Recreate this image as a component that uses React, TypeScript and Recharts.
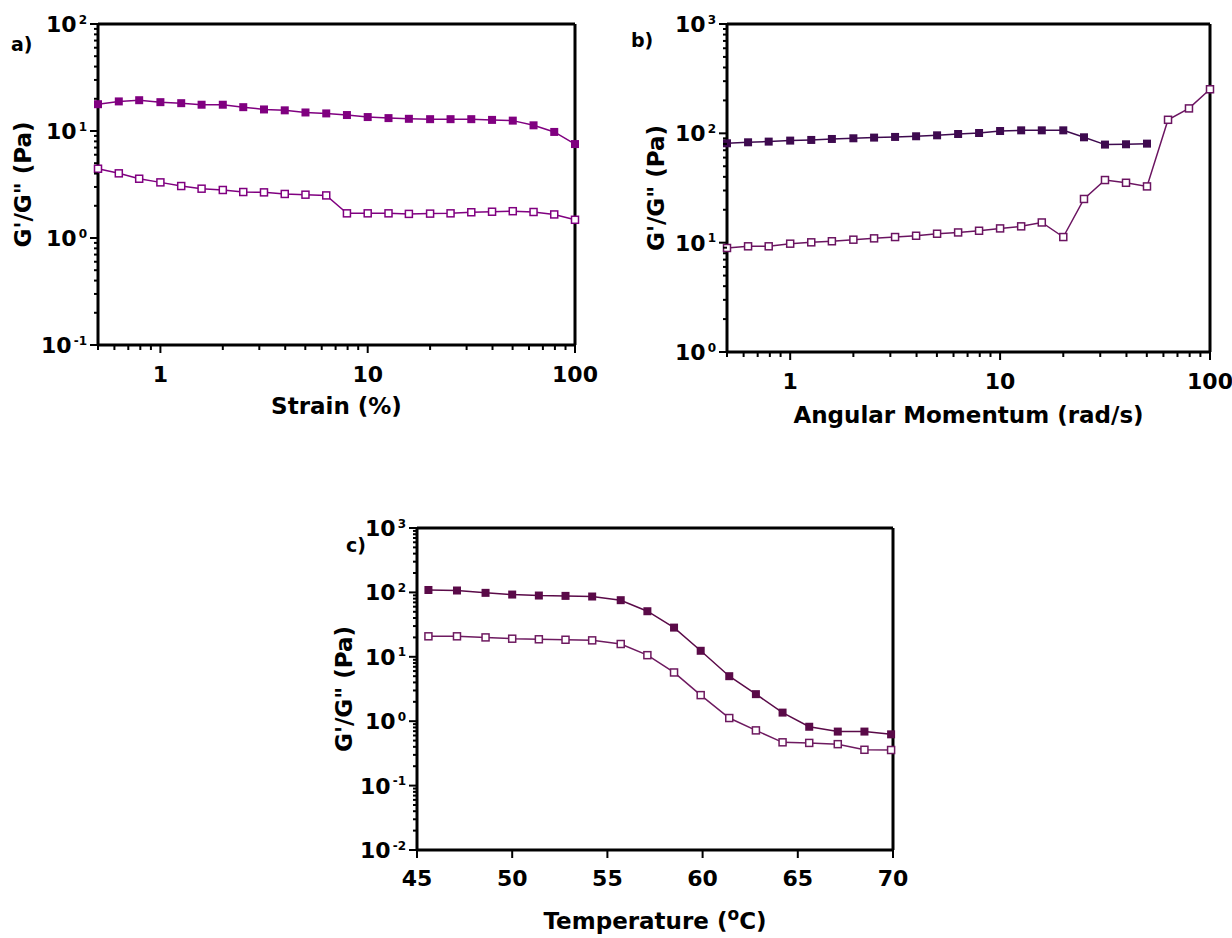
import React from "react";
import { LineChart, Line, XAxis, YAxis, ReferenceLine } from "recharts";

// a) strain sweep
const STRAIN = [0.5, 0.63, 0.79, 1, 1.26, 1.58, 2, 2.51, 3.16, 3.98, 5.01, 6.31, 7.94, 10, 12.6, 15.8, 20, 25.1, 31.6, 39.8, 50.1, 63.1, 79.4, 100];
const STRAIN_G1 = [17.8, 18.9, 19.4, 18.6, 18.2, 17.6, 17.6, 16.7, 15.9, 15.6, 14.9, 14.6, 14.1, 13.5, 13.2, 13.0, 12.9, 12.9, 12.9, 12.7, 12.5, 11.3, 9.8, 7.55];
const STRAIN_G2 = [4.44, 4.02, 3.58, 3.31, 3.06, 2.89, 2.81, 2.69, 2.67, 2.58, 2.54, 2.5, 1.7, 1.7, 1.7, 1.68, 1.69, 1.7, 1.74, 1.76, 1.78, 1.75, 1.66, 1.48];

// b) frequency sweep
const FREQ = [0.5, 0.63, 0.79, 1, 1.26, 1.58, 2, 2.51, 3.16, 3.98, 5.01, 6.31, 7.94, 10, 12.6, 15.8, 20, 25.1, 31.6, 39.8, 50.1, 63.1, 79.4, 100];
const FREQ_G1 = [81.1, 82.8, 84.0, 85.8, 87.0, 88.8, 90.1, 91.4, 92.7, 94.0, 95.9, 98.6, 100.7, 105, 106.5, 106.5, 106.5, 92, 78.9, 79.4, 80.5];
const FREQ_G2 = [8.94, 9.26, 9.26, 9.79, 10.07, 10.3, 10.65, 10.95, 11.26, 11.57, 12.07, 12.4, 12.85, 13.5, 14.1, 15.3, 11.26, 25.1, 37.4, 35.3, 32.7, 133, 169, 253];

// c) temperature sweep
const TEMP = [45.6, 47.1, 48.6, 50.0, 51.4, 52.8, 54.2, 55.7, 57.1, 58.5, 59.9, 61.4, 62.8, 64.2, 65.6, 67.1, 68.5, 69.9];
const TEMP_G1 = [109, 107, 98.4, 92.6, 89.4, 88.3, 86.3, 75.7, 51, 28.4, 12.4, 5.0, 2.63, 1.36, 0.82, 0.69, 0.69, 0.625];
const TEMP_G2 = [20.8, 20.8, 20.0, 19.1, 18.7, 18.4, 18.0, 15.8, 10.6, 5.71, 2.54, 1.12, 0.72, 0.47, 0.46, 0.44, 0.36, 0.357];

const LOG_X_MAJOR = [1, 10, 100];
const TEMP_TICKS = [45, 50, 55, 60, 65, 70];

const FONT = "'DejaVu Sans', 'Liberation Sans', Arial, sans-serif";

const rows = (xs: number[], ys: number[]) => ys.map((y, i) => ({ x: xs[i], y }));

// decades plus the 2..9 minor positions inside each decade
function logTicks(lo: number, hi: number) {
  const out: number[] = [];
  for (let e = Math.floor(Math.log10(lo)); e <= Math.ceil(Math.log10(hi)); e++) {
    for (let m = 1; m <= 9; m++) {
      const v = parseFloat((m * Math.pow(10, e)).toPrecision(6));
      if (v >= lo - 1e-9 && v <= hi + 1e-9) out.push(v);
    }
  }
  return out;
}

const isMajor = (v: number) => Math.abs(Math.log10(v) - Math.round(Math.log10(v))) < 1e-6;

function LogYTick(props: any) {
  const { x, y, payload } = props;
  const v = payload.value;
  const major = isMajor(v);
  const e = Math.round(Math.log10(v));
  return (
    <g>
      <line x1={x} x2={x - (major ? 8 : 4)} y1={y} y2={y} stroke="#000" strokeWidth={2} />
      {major && (
        <text x={x - 11} y={y + 8} textAnchor="end" fontFamily={FONT} fontWeight="bold" fontSize={22} fill="#000">
          <tspan>10</tspan>
          <tspan dx={2} dy={-8.5} fontSize={12}>{e}</tspan>
        </text>
      )}
    </g>
  );
}

function LogXTick(props: any) {
  const { x, y, payload } = props;
  const v = payload.value;
  const major = isMajor(v) && LOG_X_MAJOR.includes(v);
  return (
    <g>
      <line x1={x} x2={x} y1={y} y2={y + (major ? 8 : 5)} stroke="#000" strokeWidth={2} />
      {major && (
        <text x={x} y={y + 37} textAnchor="middle" fontFamily={FONT} fontWeight="bold" fontSize={22} fill="#000">
          {v}
        </text>
      )}
    </g>
  );
}

function LinXTick(props: any) {
  const { x, y, payload } = props;
  return (
    <g>
      <line x1={x} x2={x} y1={y} y2={y + 8} stroke="#000" strokeWidth={2} />
      <text x={x} y={y + 36} textAnchor="middle" fontFamily={FONT} fontWeight="bold" fontSize={22} fill="#000">
        {payload.value}
      </text>
    </g>
  );
}

const squareDot = (color: string, filled: boolean) => (p: any) => {
  if (p.cx == null || p.cy == null) return <g key={p.index} />;
  return filled ? (
    <rect key={p.index} x={p.cx - 4} y={p.cy - 4} width={8} height={8} fill={color} />
  ) : (
    <rect key={p.index} x={p.cx - 3.5} y={p.cy - 3.5} width={7} height={7} fill="#fff" stroke={color} strokeWidth={1.5} />
  );
};

const xTitle = (text: React.ReactNode, dy: number) => (p: any) => {
  const vb = p.viewBox;
  return (
    <text x={vb.x + vb.width / 2} y={vb.y + dy} textAnchor="middle" fontFamily={FONT} fontWeight="bold" fontSize={23} fill="#000">
      {text}
    </text>
  );
};

const yTitle = (cx: number, panel: string, px: number, py: number) => (p: any) => {
  const vb = p.viewBox;
  const cy = vb.y + vb.height / 2;
  return (
    <g>
      <text
        x={cx}
        y={cy}
        transform={`rotate(-90 ${cx} ${cy})`}
        textAnchor="middle"
        dominantBaseline="central"
        fontFamily={FONT}
        fontWeight="bold"
        fontSize={23}
        fill="#000"
      >
        G'/G" (Pa)
      </text>
      <text x={px} y={py} fontFamily={FONT} fontWeight="bold" fontSize={19} fill="#000">
        {panel}
      </text>
    </g>
  );
};

interface PanelProps {
  left: number;
  top: number;
  width: number;
  height: number;
  yAxisWidth: number;
  xAxisHeight: number;
  marginTop: number;
  marginRight: number;
  xLog: boolean;
  xDomain: [number, number];
  yDomain: [number, number];
  filled: { x: number; y: number }[];
  open: { x: number; y: number }[];
  filledColor: string;
  openColor: string;
  xLabel: React.ReactNode;
  xLabelDy: number;
  yLabelX: number;
  panel: string;
  panelX: number;
  panelY: number;
}

function Panel(p: PanelProps) {
  return (
    <div style={{ position: "absolute", left: p.left, top: p.top }}>
      <LineChart width={p.width} height={p.height} margin={{ top: p.marginTop, right: p.marginRight, left: 0, bottom: 0 }}>
        <XAxis
          dataKey="x"
          type="number"
          scale={p.xLog ? "log" : "linear"}
          domain={p.xDomain}
          ticks={p.xLog ? logTicks(p.xDomain[0], p.xDomain[1]) : TEMP_TICKS}
          interval={0}
          height={p.xAxisHeight}
          tickSize={0}
          tickMargin={0}
          tick={p.xLog ? LogXTick : LinXTick}
          axisLine={{ stroke: "#000", strokeWidth: 3 }}
          label={{ content: xTitle(p.xLabel, p.xLabelDy) }}
        />
        <YAxis
          dataKey="y"
          type="number"
          scale="log"
          domain={p.yDomain}
          ticks={logTicks(p.yDomain[0], p.yDomain[1])}
          interval={0}
          width={p.yAxisWidth}
          tickSize={0}
          tickMargin={0}
          tick={LogYTick}
          axisLine={{ stroke: "#000", strokeWidth: 3 }}
          label={{ content: yTitle(p.yLabelX, p.panel, p.panelX, p.panelY) }}
        />
        <ReferenceLine y={p.yDomain[1]} stroke="#000" strokeWidth={3} />
        <ReferenceLine x={p.xDomain[1]} stroke="#000" strokeWidth={3} />
        <Line
          data={p.filled}
          dataKey="y"
          type="linear"
          stroke={p.filledColor}
          strokeWidth={1.5}
          dot={squareDot(p.filledColor, true)}
          activeDot={false}
          isAnimationActive={false}
        />
        <Line
          data={p.open}
          dataKey="y"
          type="linear"
          stroke={p.openColor}
          strokeWidth={1.5}
          dot={squareDot(p.openColor, false)}
          activeDot={false}
          isAnimationActive={false}
        />
      </LineChart>
    </div>
  );
}

export default function App() {
  return (
    <div style={{ position: "absolute", left: 0, top: 0, width: 1232, height: 938, background: "#fff" }}>
      <Panel
        left={0}
        top={0}
        width={600}
        height={440}
        yAxisWidth={98}
        xAxisHeight={95}
        marginTop={24}
        marginRight={25}
        xLog
        xDomain={[0.5, 100]}
        yDomain={[0.1, 100]}
        filled={rows(STRAIN, STRAIN_G1)}
        open={rows(STRAIN, STRAIN_G2)}
        filledColor="#800080"
        openColor="#800080"
        xLabel="Strain (%)"
        xLabelDy={69}
        yLabelX={23}
        panel="a)"
        panelX={11}
        panelY={51}
      />
      <Panel
        left={620}
        top={0}
        width={612}
        height={440}
        yAxisWidth={107}
        xAxisHeight={88}
        marginTop={24}
        marginRight={22}
        xLog
        xDomain={[0.5, 100]}
        yDomain={[1, 1000]}
        filled={rows(FREQ, FREQ_G1)}
        open={rows(FREQ, FREQ_G2)}
        filledColor="#3e0a4f"
        openColor="#6b1461"
        xLabel="Angular Momentum (rad/s)"
        xLabelDy={71}
        yLabelX={36}
        panel="b)"
        panelX={11}
        panelY={47}
      />
      <Panel
        left={320}
        top={500}
        width={600}
        height={438}
        yAxisWidth={97}
        xAxisHeight={88}
        marginTop={28}
        marginRight={27}
        xLog={false}
        xDomain={[45, 70]}
        yDomain={[0.01, 1000]}
        filled={rows(TEMP, TEMP_G1)}
        open={rows(TEMP, TEMP_G2)}
        filledColor="#5a0a48"
        openColor="#6e1a60"
        xLabel={
          <>
            Temperature (<tspan dy={-9} fontSize={17}>o</tspan>
            <tspan dy={9}>C)</tspan>
          </>
        }
        xLabelDy={79}
        yLabelX={24}
        panel="c)"
        panelX={26}
        panelY={52}
      />
    </div>
  );
}
